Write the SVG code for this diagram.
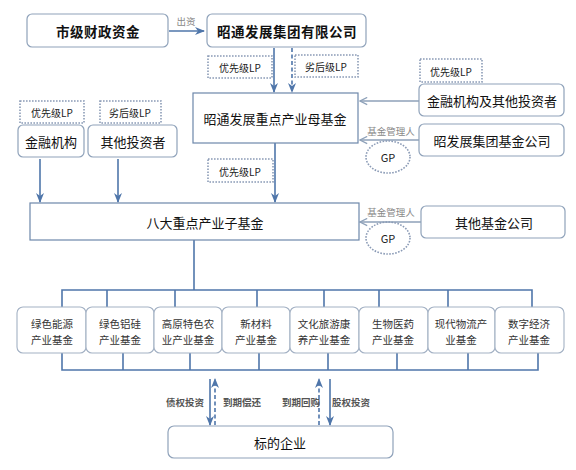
<svg xmlns="http://www.w3.org/2000/svg" width="576" height="470" viewBox="0 0 576 470">
<defs>
<style>
text{font-family:"Noto Sans CJK SC","Noto Sans",sans-serif;text-anchor:middle;dominant-baseline:central;fill:#111}
.rb{fill:#fff;stroke:#8fa2ba;stroke-width:1.2}
.sq{fill:#fff;stroke:#6d87aa;stroke-width:1.2}
.dot{fill:none;stroke:#8b9bb6;stroke-width:1.6;stroke-dasharray:1.6 1.4}
.ch{fill:#fff;stroke:#a3b1c4;stroke-width:1.1}
.ln{fill:none;stroke:#4f76aa;stroke-width:1.6}
.dash{fill:none;stroke:#4f76aa;stroke-width:1.6;stroke-dasharray:4 2.5}
.gl{fill:none;stroke:#8ea1b9;stroke-width:1.4}
.t13{font-size:13px}
.tb{font-size:13.5px;font-weight:bold;letter-spacing:0.5px}
.lp{font-size:10px;fill:#222}
.sm{font-size:9.5px;fill:#888}
.gp{font-size:11px;fill:#222}
.cl{font-size:10.5px;fill:#333}
.bl{font-size:9.5px;fill:#555;font-weight:bold}
</style>
<marker id="a" viewBox="0 0 10 8" refX="9" refY="4" markerWidth="10" markerHeight="8" markerUnits="userSpaceOnUse" orient="auto">
<path d="M0,0 L10,4 L0,8 L3,4 z" fill="#4f76aa"/>
</marker>
<marker id="g" viewBox="0 0 10 10" refX="1" refY="5" markerWidth="9" markerHeight="9" markerUnits="userSpaceOnUse" orient="auto">
<path d="M9,1 L1,5 L9,9" fill="none" stroke="#8ea1b9" stroke-width="1.4"/>
</marker>
</defs>
<rect width="576" height="470" fill="#fff"/>

<g id="connectors">
<line class="ln" x1="169" y1="31" x2="204" y2="31" marker-end="url(#a)"/>
<line class="ln" x1="274" y1="48" x2="274" y2="92" marker-end="url(#a)"/>
<line class="dash" x1="292" y1="48" x2="292" y2="92" marker-end="url(#a)"/>
<line class="gl" x1="360" y1="101" x2="419" y2="101" marker-start="url(#g)"/>
<line class="gl" x1="360" y1="140" x2="419" y2="140" marker-start="url(#g)"/>
<line class="gl" x1="360" y1="222" x2="421" y2="222" marker-start="url(#g)"/>
<line class="ln" x1="40" y1="159" x2="40" y2="202" marker-end="url(#a)"/>
<line class="ln" x1="118" y1="159" x2="118" y2="202" marker-end="url(#a)"/>
<line class="ln" x1="275" y1="143" x2="275" y2="202" marker-end="url(#a)"/>
<line class="ln" x1="194" y1="240" x2="194" y2="290"/>
<path class="ln" d="M62,307 V290 H532 V307 M107,290 V307 M175,290 V307 M257,290 V307 M324,290 V307 M379,290 V307 M448,290 V307"/>
<path class="ln" d="M62,353 V370 H538 V353 M123,370 V353 M190,370 V353 M259,370 V353 M328,370 V353 M397,370 V353 M468,370 V353"/>
<line class="ln" x1="210" y1="379" x2="210" y2="425" marker-end="url(#a)"/>
<line class="dash" x1="215" y1="425" x2="215" y2="379" marker-end="url(#a)"/>
<line class="dash" x1="319" y1="425" x2="319" y2="379" marker-end="url(#a)"/>
<line class="ln" x1="330" y1="379" x2="330" y2="425" marker-end="url(#a)"/>
<text class="sm" x="186" y="21">出资</text>
<text class="sm" x="391" y="131">基金管理人</text>
<text class="sm" x="391" y="212">基金管理人</text>
<text class="bl" x="185" y="402">债权投资</text>
<text class="bl" x="242" y="402">到期偿还</text>
<text class="bl" x="301" y="402">到期回购</text>
<text class="bl" x="351" y="402">股权投资</text>
</g>

<g id="lp1"><rect class="dot" x="208" y="56" width="64" height="22"/><text class="lp" x="240" y="67">优先级LP</text></g>
<g id="lp2"><rect class="dot" x="295" y="55" width="63" height="22"/><text class="lp" x="326" y="66">劣后级LP</text></g>
<g id="lp3"><rect class="dot" x="420" y="59" width="62" height="23"/><text class="lp" x="451" y="71">优先级LP</text></g>
<g id="lp4"><rect class="dot" x="20" y="101" width="64" height="22"/><text class="lp" x="52" y="112">优先级LP</text></g>
<g id="lp5"><rect class="dot" x="100" y="101" width="61" height="22"/><text class="lp" x="130" y="112">劣后级LP</text></g>
<g id="lp6"><rect class="dot" x="208" y="159" width="65" height="23"/><text class="lp" x="240" y="171">优先级LP</text></g>
<g id="gp1"><ellipse class="dot" cx="388" cy="157" rx="22" ry="16"/><text class="gp" x="388" y="157">GP</text></g>
<g id="gp2"><ellipse class="dot" cx="388" cy="238" rx="22" ry="16"/><text class="gp" x="388" y="238">GP</text></g>

<g id="city"><rect class="rb" x="27" y="14" width="141" height="33" rx="5"/><text class="tb" x="98" y="31">市级财政资金</text></g>
<g id="group"><rect class="rb" x="207" y="14" width="159" height="33" rx="5"/><text class="tb" x="287" y="31">昭通发展集团有限公司</text></g>
<g id="mother"><rect class="sq" x="193" y="93" width="165" height="50"/><text class="t13" x="275" y="118">昭通发展重点产业母基金</text></g>
<g id="fin2"><rect class="rb" x="419" y="84" width="145" height="32" rx="5"/><text class="t13" x="492" y="100">金融机构及其他投资者</text></g>
<g id="gpco"><rect class="rb" x="419" y="124" width="145" height="32" rx="5"/><text class="t13" x="492" y="140">昭发展集团基金公司</text></g>
<g id="fin"><rect class="rb" x="18" y="125" width="66" height="32" rx="5"/><text class="t13" x="51" y="141">金融机构</text></g>
<g id="other"><rect class="rb" x="88" y="125" width="89" height="32" rx="5"/><text class="t13" x="133" y="141">其他投资者</text></g>
<g id="sub"><rect class="sq" x="30" y="203" width="329" height="37"/><text class="t13" x="205" y="222">八大重点产业子基金</text></g>
<g id="otherfund"><rect class="rb" x="421" y="206" width="144" height="32" rx="5"/><text class="t13" x="494" y="222">其他基金公司</text></g>

<g id="c1"><rect class="ch" x="17" y="307" width="69" height="46" rx="6"/><text class="cl" x="52" y="323">绿色能源</text><text class="cl" x="52" y="339">产业基金</text></g>
<g id="c2"><rect class="ch" x="86" y="307" width="68" height="46" rx="6"/><text class="cl" x="120" y="323">绿色铝硅</text><text class="cl" x="120" y="339">产业基金</text></g>
<g id="c3"><rect class="ch" x="154" y="307" width="68" height="46" rx="6"/><text class="cl" x="188" y="323">高原特色农</text><text class="cl" x="188" y="339">业产业基金</text></g>
<g id="c4"><rect class="ch" x="222" y="307" width="68" height="46" rx="6"/><text class="cl" x="256" y="323">新材料</text><text class="cl" x="256" y="339">产业基金</text></g>
<g id="c5"><rect class="ch" x="290" y="307" width="69" height="46" rx="6"/><text class="cl" x="324" y="323">文化旅游康</text><text class="cl" x="324" y="339">养产业基金</text></g>
<g id="c6"><rect class="ch" x="359" y="307" width="69" height="46" rx="6"/><text class="cl" x="393" y="323">生物医药</text><text class="cl" x="393" y="339">产业基金</text></g>
<g id="c7"><rect class="ch" x="428" y="307" width="67" height="46" rx="6"/><text class="cl" x="461" y="323">现代物流产</text><text class="cl" x="461" y="339">业基金</text></g>
<g id="c8"><rect class="ch" x="495" y="307" width="69" height="46" rx="6"/><text class="cl" x="529" y="323">数字经济</text><text class="cl" x="529" y="339">产业基金</text></g>

<g id="target"><rect class="rb" x="168" y="426" width="225" height="32" rx="6"/><text class="t13" x="280" y="442">标的企业</text></g>
</svg>
